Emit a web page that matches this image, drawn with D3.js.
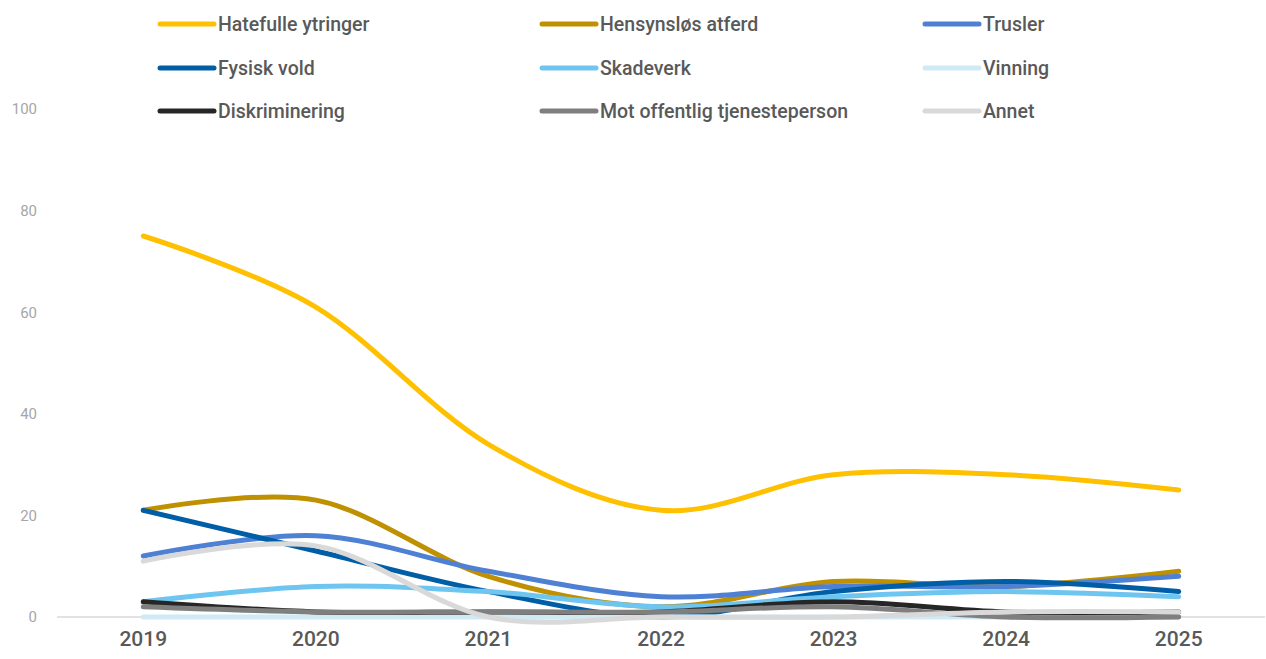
<!DOCTYPE html>
<html><head><meta charset="utf-8">
<script src="https://cdn.jsdelivr.net/npm/d3@7"></script>
<style>
html,body{margin:0;padding:0;background:#fff;}
svg{display:block;font-family:Roboto,'Noto Sans',sans-serif;}
</style></head>
<body><svg id="c" width="1266" height="659"></svg>
<script>
const years = ["2019","2020","2021","2022","2023","2024","2025"];
const seriesNames = ["Hatefulle ytringer","Hensynsløs atferd","Trusler","Fysisk vold","Skadeverk","Vinning","Diskriminering","Mot offentlig tjenesteperson","Annet"];
const colors = ["#FFC000","#BF9000","#4E81D4","#005EA6","#6EC6F0","#CFE9F5","#262626","#7F7F7F","#D9D9D9"];
const hatefulle = [75, 61, 34, 21, 28, 28, 25];
const hensynslos = [21, 23, 8, 2, 7, 6, 9];
const trusler = [12, 16, 9, 4, 6, 6, 8];
const fysiskVold = [21, 13, 5, 0, 5, 7, 5];
const skadeverk = [3, 6, 5, 2, 4, 5, 4];
const vinning = [0, 0, 0, 0, 0, 0, 0];
const diskriminering = [3, 1, 1, 1, 3, 1, 1];
const motOffentlig = [2, 1, 1, 1, 2, 0, 0];
const annet = [11, 14, 0, 0, 0, 1, 1];
const yTicks = [0, 20, 40, 60, 80, 100];

const allValues = [hatefulle, hensynslos, trusler, fysiskVold, skadeverk, vinning, diskriminering, motOffentlig, annet];
const series = seriesNames.map((n,i)=>({name:n,color:colors[i],values:allValues[i]}));

const svg = d3.select("#c");
const x = d3.scaleBand().domain(years).range([57,1265]);
const y = d3.scaleLinear().domain([0,100]).range([617,109]);

// y tick labels
const yAxis = d3.axisLeft(y).tickValues(yTicks).tickSize(0).tickPadding(0);
const ga = svg.append("g").attr("transform","translate(37,0)").call(yAxis);
ga.select(".domain").remove();
ga.selectAll("text").attr("fill","#A6A6A6").style("font-size","15px").style("font-family","Roboto");

// baseline
svg.append("line").attr("x1",57).attr("x2",1265).attr("y1",y(0)).attr("y2",y(0)).attr("stroke","#D9D9D9").attr("stroke-width",1.3);

// x axis labels
const xAxis = d3.axisBottom(x).tickSize(0).tickPadding(0);
const gx = svg.append("g").attr("transform","translate(0,640)").call(xAxis);
gx.select(".domain").remove();
gx.selectAll("text").attr("fill","#595959").attr("dy","0.3em").style("font-size","21px").style("font-weight","500").style("font-family","Roboto");

const line = d3.line().x((d,i)=>x(years[i])+x.bandwidth()/2).y(d=>y(d)).curve(d3.curveCardinal.tension(0));
svg.append("g").selectAll("path").data(series).join("path")
  .attr("d",d=>line(d.values)).attr("fill","none").attr("stroke",d=>d.color)
  .attr("stroke-width",5).attr("stroke-linecap","round").attr("stroke-linejoin","round");

// legend
const colX = [160, 542, 925];
const rowY = [24, 68, 111];
const lg = svg.append("g").selectAll("g").data(series).join("g")
  .attr("transform",(d,i)=>`translate(${colX[i%3]},${rowY[Math.floor(i/3)]})`);
lg.append("line").attr("x1",0).attr("x2",54).attr("stroke",d=>d.color).attr("stroke-width",5).attr("stroke-linecap","round");
lg.append("text").attr("x",58).attr("dy","0.35em").text(d=>d.name).attr("fill","#595959").style("font-size","19.5px").style("font-weight","500");
</script></body></html>
